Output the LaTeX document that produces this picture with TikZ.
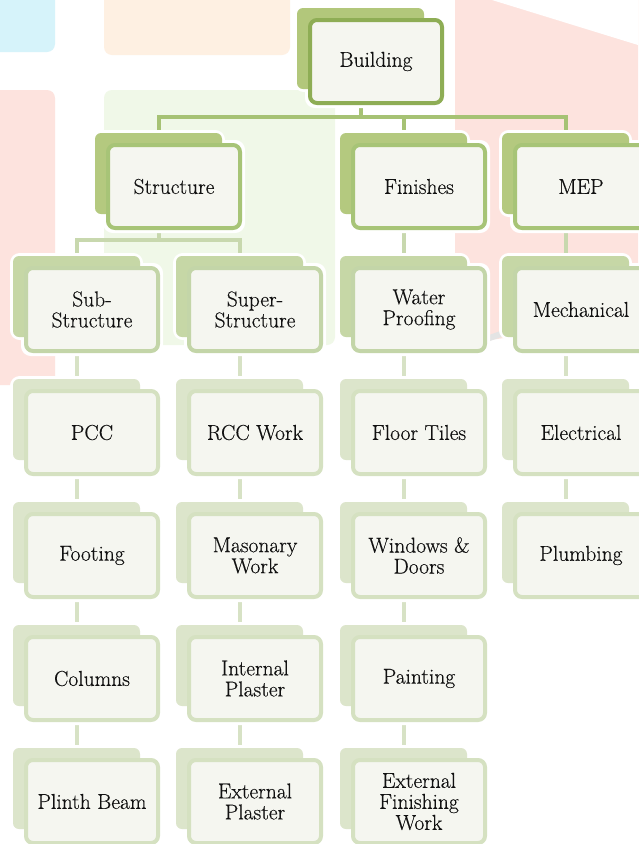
\documentclass[tikz,border=0pt]{standalone}
\usepackage{fontspec}
\newfontfamily\boxfont{Latin Modern Roman}[FakeBold=0.35]
\pgfdeclarelayer{wm}
\pgfdeclarelayer{conn}
\pgfsetlayers{wm,conn,main}
\definecolor{sh0}{HTML}{B2C77B}
\definecolor{bd0}{HTML}{8EAD55}
\definecolor{sh1}{HTML}{B4C97F}
\definecolor{bd1}{HTML}{A7C477}
\definecolor{sh2}{HTML}{C6D7A6}
\definecolor{bd2}{HTML}{C3D5A8}
\definecolor{sh3}{HTML}{DCE5CB}
\definecolor{bd3}{HTML}{D5E1C1}
\definecolor{frontfill}{HTML}{F5F6F0}
\definecolor{cone}{HTML}{A6C274}
\definecolor{ctwo}{HTML}{C8D8AE}
\definecolor{cthree}{HTML}{D7E2C5}
\definecolor{wmcyan}{HTML}{D6F3FA}
\definecolor{wmorange}{HTML}{FEF0E2}
\definecolor{wmpink}{HTML}{FDE3DE}
\definecolor{wmgreen}{HTML}{F0F8E8}
\definecolor{wmgrey}{HTML}{E4E4E4}
\definecolor{txt}{HTML}{111111}
\tikzset{
  shadowbox/.style={rectangle, rounded corners=6pt, minimum width=127pt, minimum height=81pt, inner sep=0pt},
  halobox/.style={rectangle, rounded corners=7pt, draw=white, fill=white, line width=6pt, inner sep=0pt},
  frontbox/.style={rectangle, rounded corners=7pt, line width=4pt, fill=frontfill, minimum width=132pt, minimum height=83pt, inner sep=0pt, align=center, font=\boxfont\fontsize{21.5}{21}\selectfont, text=txt},
  conn/.style={line width=4pt},
  wmshape/.style={rounded corners=8pt}
}
\newcommand\mkbox[5]{%
  \node[halobox, minimum width=127pt, minimum height=81pt] (#1HS) at ({#2+52.5},{#3+30.5}) {};
  \node[halobox, minimum width=136pt, minimum height=87pt] (#1HF) at ({#2+68},{#3+43.5}) {};
  \node[shadowbox, fill=sh#4] (#1S) at ({#2+52.5},{#3+30.5}) {};
  \node[frontbox, draw=bd#4] (#1) at ({#2+68},{#3+43.5}) {#5};
}
\begin{document}
\begin{tikzpicture}[x=1pt, y=-1pt]
\useasboundingbox (0,0) rectangle (638,844);
% faint watermark background
\begin{pgfonlayer}{wm}
  \fill[white] (0,0) rectangle (638,844);
  \fill[wmcyan, wmshape] (-10,-10) rectangle (55,52);
  \fill[wmorange, wmshape] (104,-10) rectangle (290,55);
  \fill[wmpink, wmshape] (-10,90) rectangle (55,385);
  \fill[wmgreen, wmshape] (104,90) rectangle (335,345);
  \fill[wmpink] (455,0) -- (638,0) -- (638,290) -- (560,330) -- (455,345) -- cycle;
  \fill[white] (492,0) -- (638,0) -- (638,45) -- cycle;
  \draw[wmgrey, line width=6pt] (470,345) -- (638,285);
\end{pgfonlayer}
% boxes
\mkbox{Building}{308}{18}{0}{Building}
\mkbox{Structure}{106}{143}{1}{Structure}
\mkbox{Finishes}{351}{143}{1}{Finishes}
\mkbox{MEP}{513}{143}{1}{MEP}
\mkbox{Sub}{24}{266}{2}{Sub-\\Structure}
\mkbox{Super}{187}{266}{2}{Super-\\Structure}
\mkbox{Water}{351}{266}{2}{Water\\Proofing}
\mkbox{Mech}{513}{266}{2}{Mechanical}
\mkbox{PCC}{24}{389}{3}{PCC}
\mkbox{RCC}{187}{389}{3}{RCC Work}
\mkbox{Floor}{351}{389}{3}{Floor Tiles}
\mkbox{Elec}{513}{389}{3}{Electrical}
\mkbox{Footing}{24}{512}{3}{Footing}
\mkbox{Mason}{187}{512}{3}{Masonary\\Work}
\mkbox{Windows}{351}{512}{3}{Windows \&\\Doors}
\mkbox{Plumb}{513}{512}{3}{Plumbing}
\mkbox{Columns}{24}{635}{3}{Columns}
\mkbox{IntPl}{187}{635}{3}{Internal\\Plaster}
\mkbox{Paint}{351}{635}{3}{Painting}
\mkbox{Plinth}{24}{758}{3}{Plinth Beam}
\mkbox{ExtPl}{187}{758}{3}{External\\Plaster}
\mkbox{ExtFin}{351}{758}{3}{External\\Finishing\\Work}
% connectors
\begin{pgfonlayer}{conn}
  \coordinate (j0) at (360.5,117);
  \draw[conn, cone] (BuildingS.center) -- (j0);
  \draw[conn, cone] (j0) -| (StructureS.center);
  \draw[conn, cone] (j0) -| (FinishesS.center);
  \draw[conn, cone] (j0) -| (MEPS.center);
  \coordinate (j1) at (158.5,240);
  \draw[conn, ctwo] (StructureS.center) -- (j1);
  \draw[conn, ctwo] (j1) -| (SubS.center);
  \draw[conn, ctwo] (j1) -| (SuperS.center);
  \draw[conn, ctwo] (FinishesS.center) -- (WaterS.center);
  \draw[conn, ctwo] (MEPS.center) -- (MechS.center);
  \draw[conn, cthree] (SubS.center) -- (PCCS.center) -- (FootingS.center) -- (ColumnsS.center) -- (PlinthS.center);
  \draw[conn, cthree] (SuperS.center) -- (RCCS.center) -- (MasonS.center) -- (IntPlS.center) -- (ExtPlS.center);
  \draw[conn, cthree] (WaterS.center) -- (FloorS.center) -- (WindowsS.center) -- (PaintS.center) -- (ExtFinS.center);
  \draw[conn, cthree] (MechS.center) -- (ElecS.center) -- (PlumbS.center);
\end{pgfonlayer}
\end{tikzpicture}
\end{document}
